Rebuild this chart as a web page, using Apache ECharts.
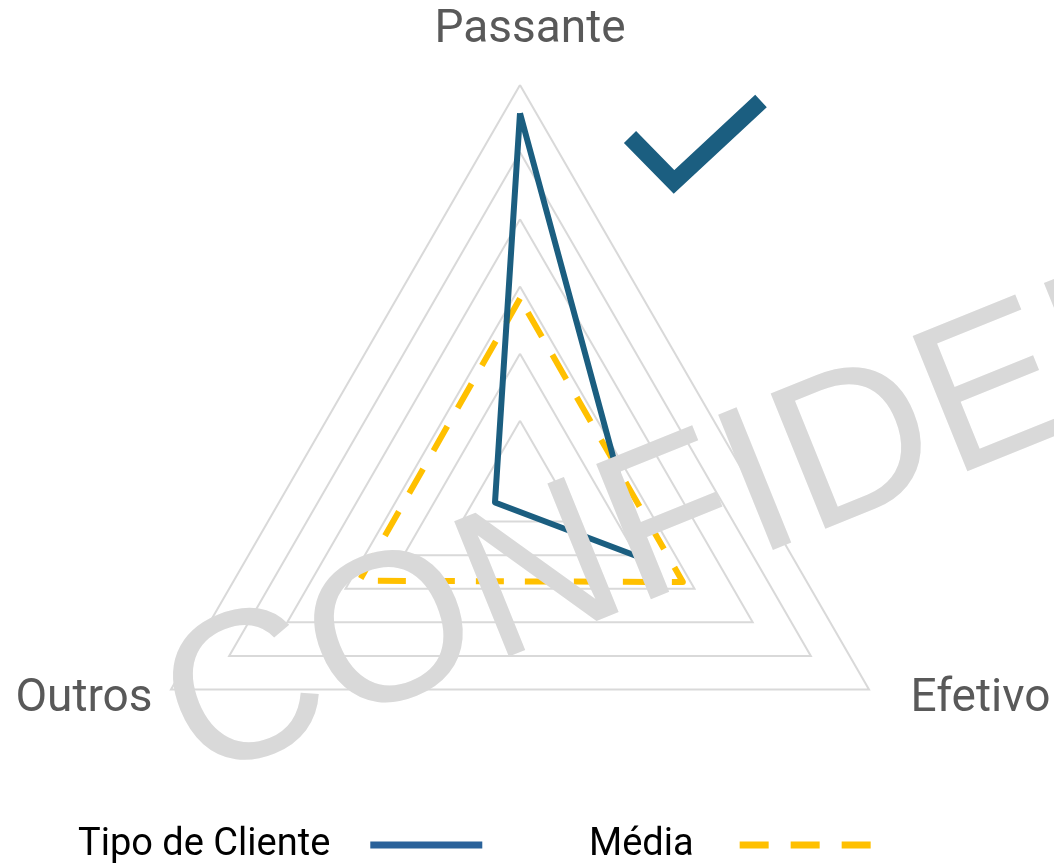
<!DOCTYPE html>
<html>
<head>
<meta charset="utf-8">
<title>Tipo de Cliente vs Média</title>
<script src="https://cdn.jsdelivr.net/npm/echarts@6/dist/echarts.min.js"></script>
<style>
  html, body { margin: 0; padding: 0; background: #fff; }
  #chart { width: 1054px; height: 866px; }
</style>
</head>
<body>
<div id="chart"></div>
<script>
// indicadores (a partir do topo, sentido anti-horário)
const indicators = ['Passante', 'Outros', 'Efetivo'];
const axisMax = 60;

// valores
const tipoCliente = [55.8, 4.3, 20.7];
const media = [28.2, 27.6, 28];

const blue = '#1B5E80';
const yellow = '#FFC000';
const nameFont = { fontSize: 46, fontFamily: 'Roboto', color: '#595959' };
const legendFont = { fontSize: 38, fontFamily: 'Roboto', color: '#000' };

// deslocamento de cada rótulo de eixo
const nameRich = {
  Passante: 'top',
  Outros: 'lft',
  Efetivo: 'rgt'
};

let chart = echarts.init(document.getElementById('chart'));

chart.setOption({
  animation: false,
  backgroundColor: '#fff',
  legend: [
    {
      left: 73,
      top: 821,
      align: 'right',
      selectedMode: false,
      itemWidth: 112,
      itemHeight: 7,
      data: [{ name: 'Tipo de Cliente', icon: 'rect', itemStyle: { color: '#2A629A', borderWidth: 0 } }],
      textStyle: Object.assign({ padding: [0, 35, 0, 0] }, legendFont)
    },
    {
      left: 584,
      top: 821,
      align: 'right',
      selectedMode: false,
      itemWidth: 131,
      itemHeight: 7,
      data: [{
        name: 'Média',
        icon: 'path://M0,0h29v7h-29z M51,0h29v7h-29z M102,0h29v7h-29z',
        itemStyle: { color: yellow, borderWidth: 0 }
      }],
      textStyle: Object.assign({ padding: [0, 41, 0, 0] }, legendFont)
    }
  ],
  radar: {
    center: [520, 488],
    radius: 403,
    shape: 'polygon',
    startAngle: 90,
    splitNumber: 6,
    nameGap: 12,
    indicator: indicators.map(n => ({ name: n, min: 0, max: axisMax })),
    axisLine: { show: false },
    splitArea: { show: false },
    splitLine: { lineStyle: { color: '#d9d9d9', width: 2 } },
    axisName: Object.assign({
      verticalAlign: 'middle',
      formatter: name => '{' + nameRich[name] + '|' + name + '}',
      rich: {
        top: Object.assign({ padding: [0, 0, 86, 20] }, nameFont),
        lft: Object.assign({ padding: [8, 8, 0, 0] }, nameFont),
        rgt: Object.assign({ padding: [8, 0, 0, 31] }, nameFont)
      }
    }, nameFont)
  },
  series: [
    {
      type: 'radar',
      symbol: 'none',
      data: [
        {
          name: 'Média',
          value: media,
          itemStyle: { color: yellow },
          lineStyle: { color: yellow, width: 6, type: [28, 21] }
        },
        {
          name: 'Tipo de Cliente',
          value: tipoCliente,
          itemStyle: { color: blue },
          lineStyle: { color: blue, width: 6, join: 'round' }
        }
      ]
    }
  ],
  graphic: [
    // marca de verificação
    {
      type: 'polyline',
      z: 10,
      shape: { points: [[630, 137], [674, 182], [761, 101]] },
      style: { stroke: blue, lineWidth: 17, fill: null, lineJoin: 'miter', lineCap: 'butt' }
    },
    // marca d'água
    {
      type: 'text',
      z: 100,
      silent: true,
      x: 176,
      y: 728,
      rotation: 22 * Math.PI / 180,
      style: {
        text: 'CONFIDENTIAL',
        font: '212px "Liberation Sans"',
        fill: '#d9d9d9',
        align: 'left',
        verticalAlign: 'middle'
      }
    }
  ]
});
</script>
</body>
</html>
